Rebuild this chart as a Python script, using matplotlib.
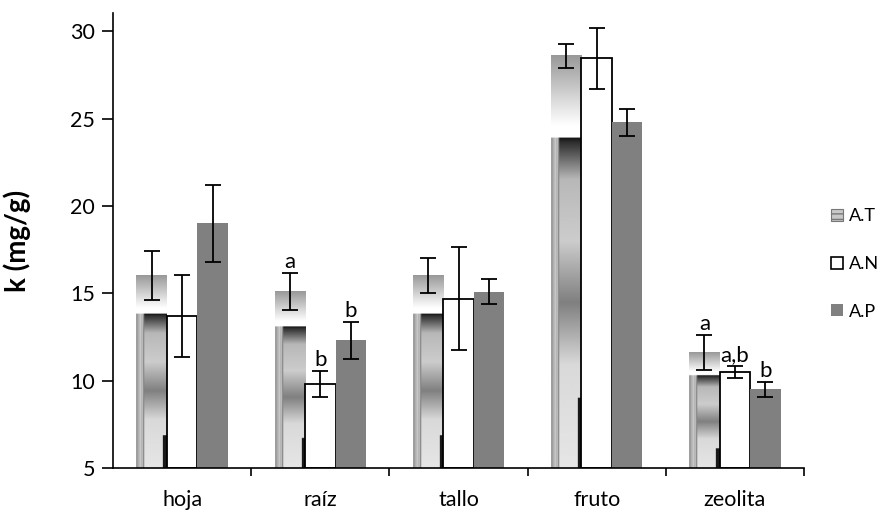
import numpy as np
import matplotlib
matplotlib.use("Agg")
import matplotlib.pyplot as plt
from matplotlib.patches import Patch

categories = ['hoja', 'raíz', 'tallo', 'fruto', 'zeolita']
series_names = ['A.T', 'A.N', 'A.P']
AT = [16.0, 15.1, 16.0, 28.6, 11.6]
AT_err = [1.4, 1.05, 1.0, 0.7, 1.0]
AN = [13.7, 9.8, 14.7, 28.45, 10.5]
AN_err = [2.35, 0.75, 2.95, 1.75, 0.35]
AP = [19.0, 12.3, 15.1, 24.8, 9.5]
AP_err = [2.2, 1.05, 0.7, 0.77, 0.45]
letters_AT = ['', 'a', '', '', 'a']
letters_AN = ['', 'b', '', '', 'a,b']
letters_AP = ['', 'b', '', '', 'b']
yticks = [5, 10, 15, 20, 25, 30]

plt.rcParams['font.family'] = ['Lato', 'DejaVu Sans']

fig = plt.figure(figsize=(8.85, 5.25), dpi=100)
ax = fig.add_axes([113/885, 1-468/525, (804-113)/885, (468-13)/525])

# texture for A.T bars (stretched picture fill)
nr, nc = 300, 30
r = np.linspace(0, 1, nr)[:, None]
c = np.linspace(0, 1, nc)[None, :]
top = 0.6 + 0.4 * np.clip(r / 0.17, 0, 1)
outer = 0.74 + 0.05 * np.sin(c * 60)
inner = np.interp(r[:, 0], [0.2, 0.21, 0.3, 0.45, 0.6, 0.75, 1.0],
                  [0.08, 0.18, 0.72, 0.8, 0.5, 0.85, 0.9])[:, None] * np.ones((1, nc))
low = np.where(c < 0.22, outer, inner)
low = np.where((c >= 0.22) & (c < 0.27), 0.5, low)
right = np.where(r > 0.83, 0.1, inner)
low = np.where(c >= 0.88, right, low)
low = np.where(c < 0.06, 0.62, low)
tex = np.where(r < 0.2, top, low)

x = np.arange(len(categories))
w = 0.22
for xi, v in zip(x, AT):
    ax.imshow(tex, cmap='gray', vmin=0, vmax=1, aspect='auto',
              extent=(xi - 1.5 * w, xi - 0.5 * w, 5, v), interpolation='bilinear', zorder=1)
ax.bar(x, np.array(AN) - 5, bottom=5, width=w, color='white', edgecolor='black', linewidth=1.3, zorder=2)
ax.bar(x + w, np.array(AP) - 5, bottom=5, width=w, color='#808080', edgecolor='none', zorder=2)

ekw = dict(fmt='none', ecolor='black', elinewidth=1.3, capsize=6, capthick=1.3, zorder=4)
ax.errorbar(x - w, AT, yerr=AT_err, **ekw)
ax.errorbar(x, AN, yerr=AN_err, **ekw)
ax.errorbar(x + w, AP, yerr=AP_err, **ekw)

for off, vals, errs, labs in [(-w, AT, AT_err, letters_AT), (0, AN, AN_err, letters_AN), (w, AP, AP_err, letters_AP)]:
    for xi, v, e, t in zip(x, vals, errs, labs):
        if t:
            ax.text(xi + off, v + e + 0.05, t, ha='center', va='bottom', fontsize=16, zorder=5)

ax.set_xlim(-0.5, len(categories) - 0.5)
ax.set_ylim(5, 31.05)
ax.set_yticks(yticks)
ax.set_xticks(x)
ax.set_xticklabels(categories, fontsize=15.5)
ax.set_xticks(np.arange(len(categories)) + 0.5, minor=True)
ax.tick_params(axis='x', which='major', length=0, pad=16)
ax.tick_params(axis='x', which='minor', length=6, width=1.2, direction='out')
ax.tick_params(axis='y', labelsize=15.5, length=8, width=1.2, direction='out', pad=5)
for s in ['top', 'right']:
    ax.spines[s].set_visible(False)
for s in ['left', 'bottom']:
    ax.spines[s].set_linewidth(1.2)
ax.set_ylabel('k (mg/g)', fontsize=20, fontweight='bold')
ax.yaxis.set_label_coords(-0.118, 0.5)

handles = [Patch(facecolor='#c8c8c8', edgecolor='#777777', hatch='---', linewidth=0.8),
           Patch(facecolor='white', edgecolor='black', linewidth=1.2),
           Patch(facecolor='#808080', edgecolor='none')]
fig.legend(handles, series_names, loc='center left', bbox_to_anchor=(815/885, 1-264/525),
           frameon=False, fontsize=13, handlelength=0.65, handleheight=0.65,
           handletextpad=0.35, labelspacing=1.75)

fig.savefig('out.png', dpi=100)
